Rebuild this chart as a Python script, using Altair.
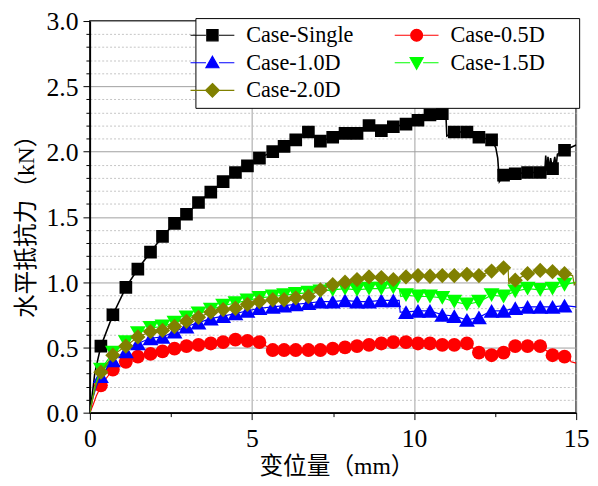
import altair as alt
import pandas as pd

SERIES = ["Case-Single", "Case-0.5D", "Case-1.0D", "Case-1.5D", "Case-2.0D"]
COLORS = ["#000000", "#ff0000", "#0000ff", "#00ff00", "#808000"]
SHAPES = ["square", "circle", "triangle-up", "triangle-down", "diamond"]
SIZES = [165, 196, 260, 260, 240]
LINE_W = [1.6, 1.2, 1.2, 1.2, 1.2]

# marker positions (displacement, mm)
X_MARK = [0.34, 0.71, 1.11, 1.48, 1.87, 2.24, 2.61, 2.98, 3.35, 3.73,
          4.11, 4.49, 4.86, 5.23, 5.64, 5.99, 6.35, 6.74, 7.11, 7.49,
          7.87, 8.24, 8.61, 8.99, 9.36, 9.75, 10.12, 10.49, 10.87, 11.24,
          11.63, 12.00, 12.39, 12.76, 13.12, 13.50, 13.89, 14.27, 14.64]

Y_SINGLE = [0.51, 0.75, 0.96, 1.10, 1.23, 1.35, 1.45, 1.52, 1.61, 1.69,
            1.77, 1.84, 1.89, 1.95, 2.00, 2.04, 2.09, 2.15, 2.08, 2.11,
            2.14, 2.14, 2.20, 2.16, 2.19, 2.21, 2.24, 2.28, 2.29, 2.15,
            2.15, 2.11, 2.09, 1.82, 1.83, 1.84, 1.84, 1.87, 2.01]
Y_05D = [0.21, 0.33, 0.39, 0.43, 0.45, 0.47, 0.49, 0.51, 0.52, 0.53,
         0.54, 0.56, 0.55, 0.54, 0.48, 0.48, 0.48, 0.48, 0.48, 0.49,
         0.50, 0.51, 0.52, 0.53, 0.54, 0.54, 0.53, 0.53, 0.52, 0.52,
         0.53, 0.46, 0.44, 0.46, 0.51, 0.51, 0.51, 0.44, 0.43]
Y_10D = [0.28, 0.40, 0.47, 0.53, 0.57, 0.58, 0.62, 0.66, 0.69, 0.72,
         0.74, 0.76, 0.78, 0.80, 0.81, 0.82, 0.83, 0.84, 0.85, 0.85,
         0.86, 0.85, 0.85, 0.86, 0.86, 0.77, 0.78, 0.78, 0.75, 0.74,
         0.71, 0.73, 0.78, 0.78, 0.80, 0.81, 0.81, 0.81, 0.82]
Y_15D = [0.33, 0.46, 0.54, 0.61, 0.65, 0.66, 0.69, 0.73, 0.76, 0.79,
         0.82, 0.84, 0.86, 0.88, 0.89, 0.90, 0.91, 0.92, 0.93, 0.94,
         0.95, 0.94, 0.95, 0.95, 0.96, 0.90, 0.89, 0.89, 0.88, 0.85,
         0.83, 0.85, 0.90, 0.89, 0.93, 0.95, 0.94, 0.95, 0.98]
Y_20D = [0.31, 0.44, 0.51, 0.58, 0.62, 0.63, 0.66, 0.70, 0.73, 0.77,
         0.79, 0.80, 0.83, 0.85, 0.865, 0.865, 0.88, 0.89, 0.94, 0.98,
         1.00, 1.02, 1.04, 1.035, 1.02, 1.04, 1.05, 1.045, 1.05, 1.05,
         1.06, 1.05, 1.085, 1.11, 1.015, 1.065, 1.09, 1.08, 1.065]

# extra curve points between markers (line only)
EX_SINGLE_X = [0.0, 0.08, 0.15, 0.22, 10.98, 11.01, 12.52, 12.58, 12.63, 14.03, 14.06,
               14.10, 14.13, 14.17, 14.21, 14.34, 14.38, 14.42, 15.0]
EX_SINGLE_Y = [0.0, 0.15, 0.30, 0.38, 2.29, 2.12, 2.03, 1.95, 1.77, 1.84, 1.97,
               1.85, 1.96, 1.86, 1.95, 1.96, 1.88, 1.98, 2.05]
EX_05D_X = [0.0, 0.10, 0.20, 0.28, 14.79, 14.84, 15.0]
EX_05D_Y = [0.0, 0.06, 0.13, 0.17, 0.42, 0.39, 0.38]
EX_10D_X = [0.0, 0.10, 0.20, 9.54, 9.57, 15.0]
EX_10D_Y = [0.0, 0.12, 0.20, 0.86, 0.77, 0.81]
EX_15D_X = [0.0, 0.10, 0.20, 9.54, 9.59, 15.0]
EX_15D_Y = [0.0, 0.13, 0.24, 0.95, 0.89, 1.00]
EX_20D_X = [0.0, 0.10, 0.20, 12.90, 12.92, 14.89, 14.94, 15.0]
EX_20D_Y = [0.0, 0.12, 0.22, 1.11, 0.99, 1.05, 0.98, 1.00]

Y_ALL = [Y_SINGLE, Y_05D, Y_10D, Y_15D, Y_20D]
EX_ALL = [(EX_SINGLE_X, EX_SINGLE_Y), (EX_05D_X, EX_05D_Y), (EX_10D_X, EX_10D_Y),
          (EX_15D_X, EX_15D_Y), (EX_20D_X, EX_20D_Y)]

rows = []
for s, ys, (ex, ey) in zip(SERIES, Y_ALL, EX_ALL):
    for x, y in zip(X_MARK, ys):
        rows.append({"series": s, "x": x, "y": y, "marker": True})
    for x, y in zip(ex, ey):
        rows.append({"series": s, "x": x, "y": y, "marker": False})
df = pd.DataFrame(rows)

# legend symbols: line segment + marker (right-column symbols carry a bare move-to
# that widens the legend frame to the right, as in the original)
LINE_SEG = "M-3.7,0H-1.1M1.1,0H3.7"
WIDEN = "M26.0,0"
PATH_BY_SERIES = {
    "Case-Single": LINE_SEG + "M-0.95,-0.95H0.95V0.95H-0.95Z",
    "Case-0.5D": LINE_SEG + "M-1,0A1,1,0,1,0,1,0A1,1,0,1,0,-1,0Z" + WIDEN,
    "Case-1.0D": LINE_SEG + "M0,-1.1L1.1,0.85H-1.1Z",
    "Case-1.5D": LINE_SEG + "M0,1.1L1.1,-0.85H-1.1Z" + WIDEN,
    "Case-2.0D": LINE_SEG + "M0,-1.15L1.15,0L0,1.15L-1.15,0Z",
}
COLOR_BY_SERIES = dict(zip(SERIES, COLORS))
# legend fills column by column: left column Single / 1.0D / 2.0D, right column 0.5D / 1.5D
LEGEND_ORDER = ["Case-Single", "Case-1.0D", "Case-2.0D", "Case-0.5D", "Case-1.5D"]
LEG_COLORS = [COLOR_BY_SERIES[s] for s in LEGEND_ORDER]
LEG_PATHS = [PATH_BY_SERIES[s] for s in LEGEND_ORDER]

SERIF = "Liberation Serif"
TITLE_FONT = "'Liberation Serif', 'Noto Sans CJK SC'"

y_vals = [round(i * 0.1, 1) for i in range(31)]
y_major = "abs(datum.value*2 - round(datum.value*2)) < 0.001"
x_vals = [0, 2.5, 5, 7.5, 10, 12.5, 15]
x_major = "datum.value % 5 == 0"

yaxis = alt.Axis(
    values=y_vals,
    labelExpr=f"{y_major} ? format(datum.value, '.1f') : ''",
    labelFont=SERIF, labelFontSize=26, labelColor="black", labelPadding=5,
    labelOverlap=False, labelFlush=False, labelOffset=1,
    tickColor="black", tickWidth=1,
    tickSize={"condition": {"test": y_major, "value": 7}, "value": 4},
    grid=True, gridWidth=1,
    gridColor={"condition": {"test": y_major, "value": "#a0a0a0"}, "value": "#c4c4c4"},
    gridDash={"condition": {"test": y_major, "value": []}, "value": [2, 2]},
    domainColor="black", domainWidth=1.5,
    title="水平抵抗力（kN）", titleFont=TITLE_FONT, titleFontSize=24,
    titleFontWeight="normal", titleColor="black",
    titleX=-64, titleY=202, titleAlign="center", titleBaseline="middle", titleAngle=270,
)
xaxis = alt.Axis(
    values=x_vals,
    labelExpr=f"{x_major} ? format(datum.value, 'd') : ''",
    labelFont=SERIF, labelFontSize=26, labelColor="black", labelPadding=6,
    labelOverlap=False, labelFlush=False,
    tickColor="black", tickWidth=1,
    tickSize={"condition": {"test": x_major, "value": 7}, "value": 4},
    grid=True, gridWidth=1, gridColor="#a0a0a0",
    gridOpacity={"condition": {"test": x_major, "value": 1}, "value": 0},
    domainColor="black", domainWidth=1.5,
    title="变位量（mm）", titleFont=TITLE_FONT, titleFontSize=24,
    titleFontWeight="normal", titleColor="black",
    titleX=250, titleY=55, titleAlign="center", titleBaseline="middle",
)

X = alt.X("x:Q", scale=alt.Scale(domain=[0, 15], nice=False, zero=False), axis=xaxis)
Y = alt.Y("y:Q", scale=alt.Scale(domain=[0, 3], nice=False, zero=False), axis=yaxis)

base = alt.Chart(df)
layers = []
for s, c, sh, sz, lw in zip(SERIES, COLORS, SHAPES, SIZES, LINE_W):
    layers.append(
        base.transform_filter(f"datum.series == '{s}'")
        .mark_line(color=c, strokeWidth=lw, clip=True)
        .encode(x=X, y=Y)
    )
    layers.append(
        base.transform_filter(f"datum.series == '{s}' && datum.marker")
        .mark_point(filled=True, shape=sh, size=sz, color=c, opacity=1, clip=True)
        .encode(x=X, y=Y)
    )

leg = alt.Legend(
    title=None, orient="none", legendX=107, legendY=-3, columns=2,
    columnPadding=38, rowPadding=5, symbolSize=144, symbolStrokeWidth=1.2,
    symbolOpacity=1, labelFont=SERIF, labelFontSize=22.5, labelColor="black",
    labelOffset=23, labelLimit=400, padding=6,
    strokeColor="black", fillColor="white",
)
legend_layer = (
    base.transform_filter("datum.x < 0")
    .mark_point(filled=True, opacity=1)
    .encode(
        x=X, y=Y,
        fill=alt.Fill("series:N", scale=alt.Scale(domain=LEGEND_ORDER, range=LEG_COLORS), legend=leg),
        stroke=alt.Stroke("series:N", scale=alt.Scale(domain=LEGEND_ORDER, range=LEG_COLORS), legend=leg),
        shape=alt.Shape("series:N", scale=alt.Scale(domain=LEGEND_ORDER, range=LEG_PATHS), legend=leg),
    )
)
layers.append(legend_layer)

chart = (
    alt.layer(*layers)
    .properties(
        width=493, height=397,
        autosize=alt.AutoSizeParams(type="none"),
        padding={"left": 83, "top": 10, "right": 14, "bottom": 63},
        background="white",
    )
    .configure_view(stroke="black", strokeWidth=1.5)
)

chart.save("out.html", embed_options={"renderer": "svg", "actions": False})
